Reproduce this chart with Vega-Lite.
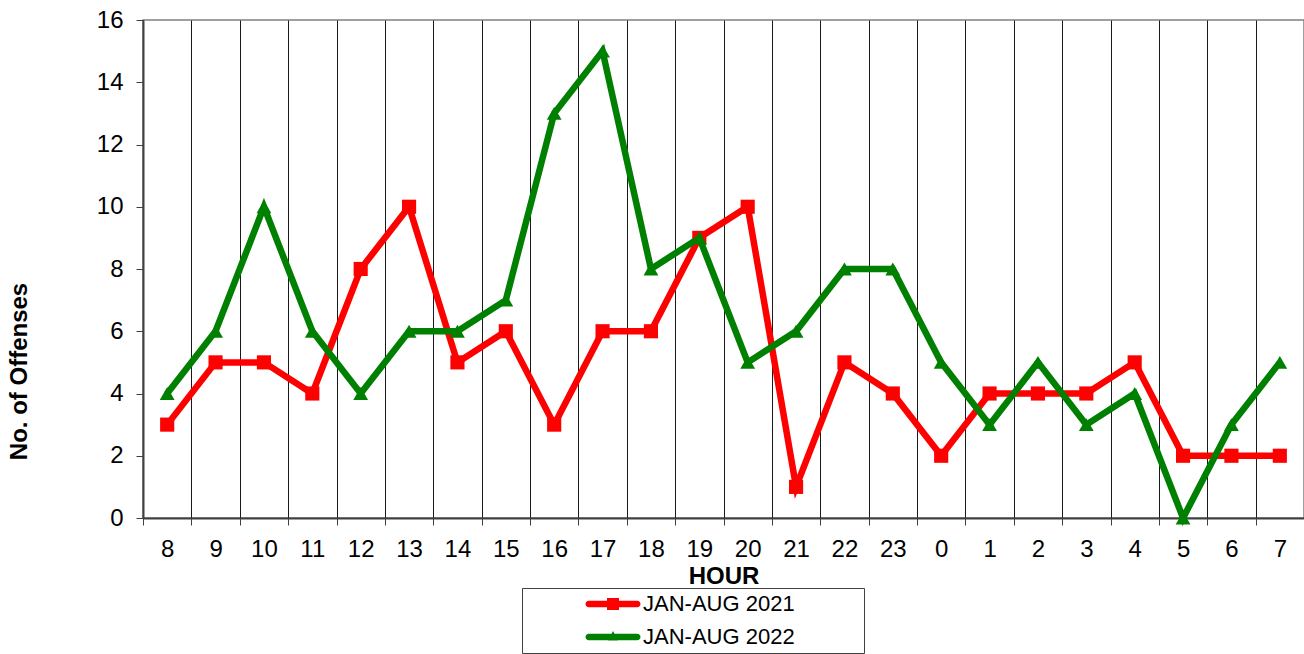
{
  "$schema": "https://vega.github.io/schema/vega-lite/v6.json",
  "autosize": {"type": "none"},
  "width": 1161,
  "height": 498,
  "padding": {"left": 143, "top": 20, "right": 0, "bottom": 136},
  "background": "white",
  "config": {
    "font": "Liberation Sans",
    "view": {"stroke": "#808080", "strokeWidth": 1.5}
  },
  "data": {
    "values": [
      {"hour": "8", "series": "JAN-AUG 2021", "offenses": 3},
      {"hour": "9", "series": "JAN-AUG 2021", "offenses": 5},
      {"hour": "10", "series": "JAN-AUG 2021", "offenses": 5},
      {"hour": "11", "series": "JAN-AUG 2021", "offenses": 4},
      {"hour": "12", "series": "JAN-AUG 2021", "offenses": 8},
      {"hour": "13", "series": "JAN-AUG 2021", "offenses": 10},
      {"hour": "14", "series": "JAN-AUG 2021", "offenses": 5},
      {"hour": "15", "series": "JAN-AUG 2021", "offenses": 6},
      {"hour": "16", "series": "JAN-AUG 2021", "offenses": 3},
      {"hour": "17", "series": "JAN-AUG 2021", "offenses": 6},
      {"hour": "18", "series": "JAN-AUG 2021", "offenses": 6},
      {"hour": "19", "series": "JAN-AUG 2021", "offenses": 9},
      {"hour": "20", "series": "JAN-AUG 2021", "offenses": 10},
      {"hour": "21", "series": "JAN-AUG 2021", "offenses": 1},
      {"hour": "22", "series": "JAN-AUG 2021", "offenses": 5},
      {"hour": "23", "series": "JAN-AUG 2021", "offenses": 4},
      {"hour": "0", "series": "JAN-AUG 2021", "offenses": 2},
      {"hour": "1", "series": "JAN-AUG 2021", "offenses": 4},
      {"hour": "2", "series": "JAN-AUG 2021", "offenses": 4},
      {"hour": "3", "series": "JAN-AUG 2021", "offenses": 4},
      {"hour": "4", "series": "JAN-AUG 2021", "offenses": 5},
      {"hour": "5", "series": "JAN-AUG 2021", "offenses": 2},
      {"hour": "6", "series": "JAN-AUG 2021", "offenses": 2},
      {"hour": "7", "series": "JAN-AUG 2021", "offenses": 2},
      {"hour": "8", "series": "JAN-AUG 2022", "offenses": 4},
      {"hour": "9", "series": "JAN-AUG 2022", "offenses": 6},
      {"hour": "10", "series": "JAN-AUG 2022", "offenses": 10},
      {"hour": "11", "series": "JAN-AUG 2022", "offenses": 6},
      {"hour": "12", "series": "JAN-AUG 2022", "offenses": 4},
      {"hour": "13", "series": "JAN-AUG 2022", "offenses": 6},
      {"hour": "14", "series": "JAN-AUG 2022", "offenses": 6},
      {"hour": "15", "series": "JAN-AUG 2022", "offenses": 7},
      {"hour": "16", "series": "JAN-AUG 2022", "offenses": 13},
      {"hour": "17", "series": "JAN-AUG 2022", "offenses": 15},
      {"hour": "18", "series": "JAN-AUG 2022", "offenses": 8},
      {"hour": "19", "series": "JAN-AUG 2022", "offenses": 9},
      {"hour": "20", "series": "JAN-AUG 2022", "offenses": 5},
      {"hour": "21", "series": "JAN-AUG 2022", "offenses": 6},
      {"hour": "22", "series": "JAN-AUG 2022", "offenses": 8},
      {"hour": "23", "series": "JAN-AUG 2022", "offenses": 8},
      {"hour": "0", "series": "JAN-AUG 2022", "offenses": 5},
      {"hour": "1", "series": "JAN-AUG 2022", "offenses": 3},
      {"hour": "2", "series": "JAN-AUG 2022", "offenses": 5},
      {"hour": "3", "series": "JAN-AUG 2022", "offenses": 3},
      {"hour": "4", "series": "JAN-AUG 2022", "offenses": 4},
      {"hour": "5", "series": "JAN-AUG 2022", "offenses": 0},
      {"hour": "6", "series": "JAN-AUG 2022", "offenses": 3},
      {"hour": "7", "series": "JAN-AUG 2022", "offenses": 5}
    ]
  },
  "encoding": {
    "x": {
      "field": "hour",
      "type": "ordinal",
      "scale": {
        "type": "band",
        "domain": ["8","9","10","11","12","13","14","15","16","17","18","19","20","21","22","23","0","1","2","3","4","5","6","7"],
        "paddingInner": 0,
        "paddingOuter": 0
      },
      "axis": {
        "title": "HOUR",
        "titleFontSize": 24,
        "titleFontWeight": "bold",
        "titleColor": "black",
        "titlePadding": 3,
        "labelAngle": 0,
        "labelFontSize": 24,
        "labelColor": "black",
        "labelPadding": 12,
        "tickBand": "extent",
        "tickSize": 7,
        "tickColor": "#404040",
        "domainColor": "#404040",
        "domainWidth": 2,
        "grid": true,
        "gridColor": "#1a1a1a",
        "gridWidth": 1,
        "gridOpacity": 1
      }
    },
    "y": {
      "field": "offenses",
      "type": "quantitative",
      "scale": {"domain": [0, 16], "nice": false},
      "axis": {
        "title": "No. of Offenses",
        "titleFontSize": 24,
        "titleFontWeight": "bold",
        "titleColor": "black",
        "titleX": -112,
        "titleY": 351,
        "values": [0, 2, 4, 6, 8, 10, 12, 14, 16],
        "labelFontSize": 24,
        "labelColor": "black",
        "labelPadding": 13,
        "tickSize": 7,
        "tickColor": "#404040",
        "domainColor": "#404040",
        "domainWidth": 2,
        "grid": false
      }
    },
    "color": {
      "field": "series",
      "type": "nominal",
      "scale": {"domain": ["JAN-AUG 2021", "JAN-AUG 2022"], "range": ["#ff0000", "#008000"]},
      "legend": {
        "title": null,
        "orient": "none",
        "legendX": 379,
        "legendY": 568,
        "direction": "vertical",
        "strokeColor": "#404040",
        "fillColor": "white",
        "padding": 5,
        "symbolOffset": 75,
        "symbolType": "M-2.42,-0.33H2.42A0.33,0.33 0 0 1 2.42,0.33H-2.42A0.33,0.33 0 0 1 -2.42,-0.33Z",
        "symbolSize": 400,
        "symbolStrokeWidth": 0,
        "labelFontSize": 22,
        "labelColor": "black",
        "labelOffset": 19,
        "labelLimit": 400,
        "labelExpr": "datum.label + '\u2800\u2800\u2800\u2800'",
        "rowPadding": 11,
        "encode": {
          "symbols": {
            "update": {
              "shape": {"signal": "datum.value === 'JAN-AUG 2021' ? 'M-2.42,-0.33H2.42A0.33,0.33 0 0 1 2.42,0.33H-2.42A0.33,0.33 0 0 1 -2.42,-0.33Z M-0.6,-0.6H0.6V0.6H-0.6Z' : 'M-2.42,-0.33H2.42A0.33,0.33 0 0 1 2.42,0.33H-2.42A0.33,0.33 0 0 1 -2.42,-0.33Z M0,-0.6L0.5,0.35H-0.5Z'"},
              "strokeWidth": {"value": 0}
            }
          }
        }
      }
    }
  },
  "layer": [
    {
      "transform": [{"filter": "datum.series === 'JAN-AUG 2021'"}],
      "mark": {"type": "line", "strokeWidth": 6.5, "strokeJoin": "miter"}
    },
    {
      "transform": [{"filter": "datum.series === 'JAN-AUG 2021'"}],
      "mark": {"type": "point", "shape": "square", "filled": true, "size": 200, "opacity": 1}
    },
    {
      "transform": [{"filter": "datum.series === 'JAN-AUG 2022'"}],
      "mark": {"type": "line", "strokeWidth": 6.5, "strokeJoin": "miter"}
    },
    {
      "transform": [{"filter": "datum.series === 'JAN-AUG 2022'"}],
      "mark": {"type": "point", "shape": "triangle-up", "filled": true, "size": 220, "opacity": 1}
    }
  ]
}
